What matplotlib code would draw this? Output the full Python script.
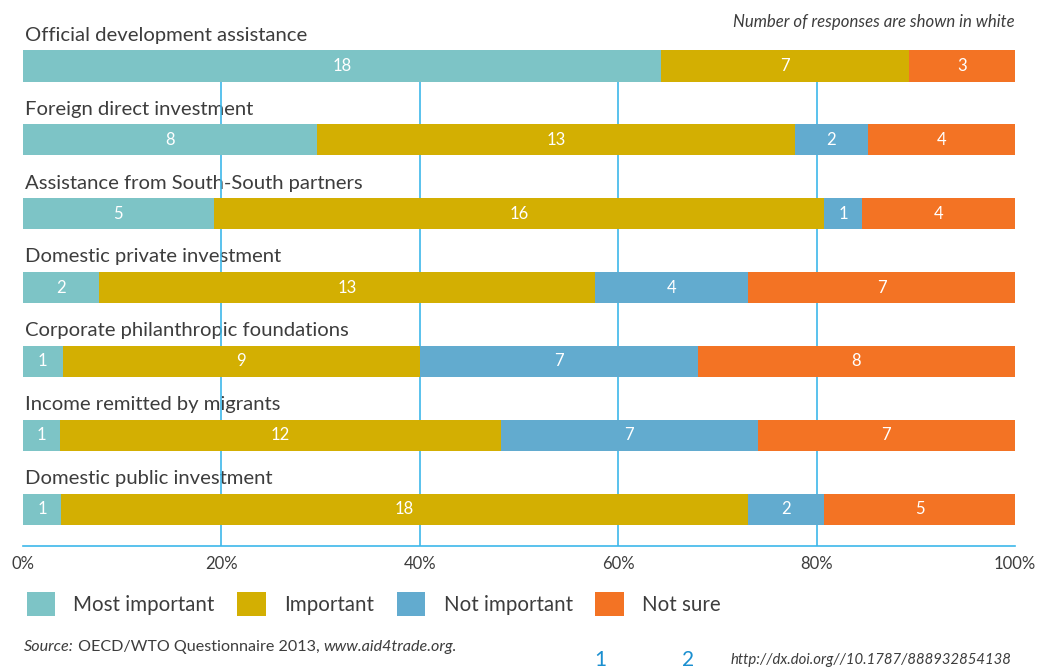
import matplotlib
matplotlib.use("Agg")
import matplotlib.pyplot as plt
import numpy as np

plt.rcParams['font.family'] = ['Lato', 'DejaVu Sans']

# survey counts per source of finance
sources = [
    "Official development assistance",
    "Foreign direct investment",
    "Assistance from South-South partners",
    "Domestic private investment",
    "Corporate philanthropic foundations",
    "Income remitted by migrants",
    "Domestic public investment",
]
most_important = [18, 8, 5, 2, 1, 1, 1]
important = [7, 13, 16, 13, 9, 12, 18]
not_important = [0, 2, 1, 4, 7, 7, 2]
not_sure = [3, 4, 4, 7, 8, 7, 5]

series = [
    ("Most important", most_important, "#7dc4c6"),
    ("Important", important, "#d3af02"),
    ("Not important", not_important, "#62abcf"),
    ("Not sure", not_sure, "#f37324"),
]
ticks = [0, 20, 40, 60, 80, 100]
tick_labels = ["0%", "20%", "40%", "60%", "80%", "100%"]

text_col = "#3d3d3d"
grid_col = "#3db8ea"

fig = plt.figure(figsize=(10.39, 6.69), dpi=100)
W, H = 1039, 669
ax = fig.add_axes([23 / W, 1 - 546 / H, 992 / W, 526 / H])

totals = np.array([sum(s[1][i] for s in series) for i in range(len(sources))])
y = np.arange(len(sources))
left = np.zeros(len(sources))
handles = []
for name, vals, col in series:
    pct = np.array(vals) / totals * 100
    bars = ax.barh(y, pct, left=left, height=0.42, color=col, label=name, zorder=3)
    handles.append(bars)
    for yi, l, p, v in zip(y, left, pct, vals):
        if v > 0:
            ax.text(l + p / 2, yi, str(v), ha="center", va="center",
                    color="white", fontsize=12, zorder=4)
    left += pct

for yi, name in zip(y, sources):
    ax.text(0.2, yi - 0.30, name, ha="left", va="bottom", fontsize=14.6,
            color=text_col, zorder=1)

ax.vlines(ticks[1:-1], 0, 6.5, color=grid_col, lw=1.2, zorder=2)

ax.set_xlim(0, 100)
ax.set_ylim(6.5, -0.623)
for s in ["top", "right", "left"]:
    ax.spines[s].set_visible(False)
ax.spines["bottom"].set_color(grid_col)
ax.spines["bottom"].set_linewidth(1.2)
ax.set_yticks([])
ax.set_xticks(ticks)
ax.set_xticklabels(tick_labels, fontsize=12, color=text_col)
ax.tick_params(axis="x", length=0, pad=7)

fig.text(1015 / W, 1 - 22 / H, "Number of responses are shown in white",
         ha="right", va="center", fontsize=12.1, style="italic", color=text_col)

fig.legend(handles=handles, loc="center left", bbox_to_anchor=(8 / W, 1 - 604 / H),
           ncol=4, frameon=False, fontsize=14.8, handlelength=1.38, handleheight=1.38,
           handletextpad=0.9, columnspacing=1.1, labelcolor=text_col)

# source line: plain and italic pieces placed one after another
renderer = fig.canvas.get_renderer()
x_px = 24
for piece, st in [("Source:", "italic"), (" OECD/WTO Questionnaire 2013, ", "normal"),
                  ("www.aid4trade.org.", "italic")]:
    t = fig.text(x_px / W, 1 - 647 / H, piece, ha="left", va="center", fontsize=11.6,
                 style=st, color=text_col)
    x_px += t.get_window_extent(renderer).width

fig.text(600 / W, 1 - 660 / H, "1", ha="center", va="center", fontsize=15, color="#1a8fd0")
fig.text(688 / W, 1 - 660 / H, "2", ha="center", va="center", fontsize=15, color="#1a8fd0")
fig.text(1011 / W, 1 - 660 / H, "http://dx.doi.org//10.1787/888932854138", ha="right",
         va="center", fontsize=10.7, style="italic", color=text_col)

fig.savefig("out.png", dpi=100)
